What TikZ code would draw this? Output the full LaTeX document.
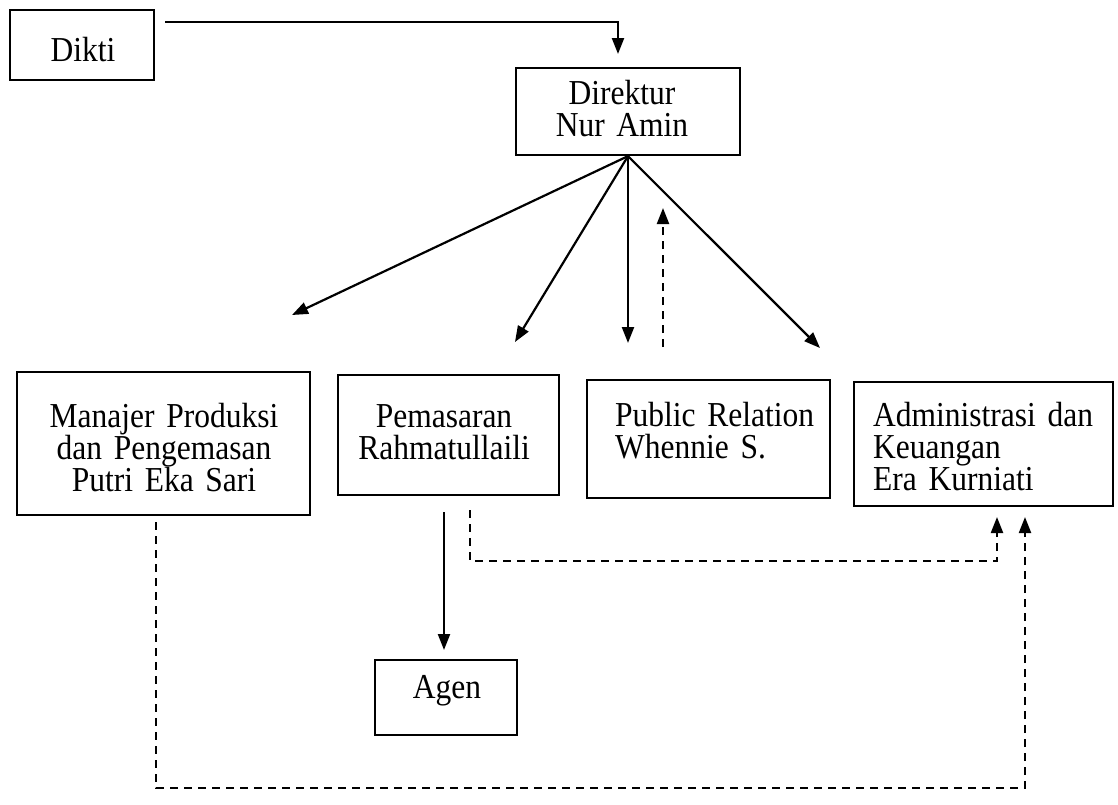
\documentclass[tikz,border=0pt]{standalone}
\usepackage{fontspec}
\setmainfont{Liberation Serif}[FakeStretch=0.9, WordSpace=0.8]
\usetikzlibrary{arrows.meta}
\begin{document}
\begin{tikzpicture}[x=1pt,y=-1pt,
  box/.style={draw, line width=2.2pt, inner sep=0pt},
  txt/.style={inner sep=0pt, font=\fontsize{35}{32}\selectfont},
  arr/.style={line width=2.2pt, -{Triangle[length=16pt,width=12pt]}},
  darr/.style={line width=2.2pt, dash pattern=on 8pt off 6pt, -{Triangle[length=16pt,width=12pt]}}]
\useasboundingbox (0,0) rectangle (1118,804);

% boxes
\node[box, minimum width=144pt, minimum height=70pt] (dikti) at (82,45) {};
\node[box, minimum width=224pt, minimum height=87pt] (dir) at (628,111.5) {};
\node[box, minimum width=293pt, minimum height=143pt] (man) at (163.5,443.5) {};
\node[box, minimum width=221pt, minimum height=120pt] (pem) at (448.5,435) {};
\node[box, minimum width=243pt, minimum height=118pt] (pr) at (708.5,439) {};
\node[box, minimum width=259pt, minimum height=124pt] (adm) at (983.5,444) {};
\node[box, minimum width=142pt, minimum height=75pt] (agen) at (446,697.5) {};

% texts
\node[txt, anchor=base] (diktit) at (83,61) {Dikti};
\node[txt, text width=220pt, align=center, anchor=base] (dirt) at (622,104) {Direktur\\Nur Amin};
\node[txt, text width=290pt, align=center, anchor=base] (mant) at (164,427) {Manajer Produksi\\dan Pengemasan\\Putri Eka Sari};
\node[txt, text width=220pt, align=center, anchor=base] (pemt) at (444,427) {Pemasaran\\Rahmatullaili};
\node[txt, text width=215pt, align=left, anchor=base west] (prt) at (615,426) {Public Relation\\Whennie S.};
\node[txt, text width=235pt, align=left, anchor=base west] (admt) at (873,426) {Administrasi dan\\Keuangan\\Era Kurniati};
\node[txt, anchor=base] (agent) at (447,698) {Agen};

% free ends
\coordinate (d0) at (165,22);
\coordinate (d1) at (618,54);
\coordinate (t1) at (292,315);
\coordinate (t2) at (515,342);
\coordinate (t3) at (628,343);
\coordinate (t4) at (820,348);
\coordinate (u0) at (663,347);
\coordinate (u1) at (663,208);
\coordinate (a0) at (444,512);
\coordinate (a1) at (444,650);
\coordinate (p0) at (470,510);
\coordinate (p1) at (997,517);
\coordinate (m0) at (156,522);
\coordinate (m1) at (1025,517);

% connectors
\draw[arr] (d0) -| (d1);
\draw[arr] (dir.south) -- (t1);
\draw[arr] (dir.south) -- (t2);
\draw[arr] (dir.south) -- (t3);
\draw[arr] (dir.south) -- (t4);
\draw[darr] (u0) -- (u1);
\draw[arr] (a0) -- (a1);
\draw[darr] (p0) -- (470,561) -- (997,561) -- (p1);
\draw[darr] (m0) -- (156,788) -- (1025,788) -- (m1);
\end{tikzpicture}
\end{document}
